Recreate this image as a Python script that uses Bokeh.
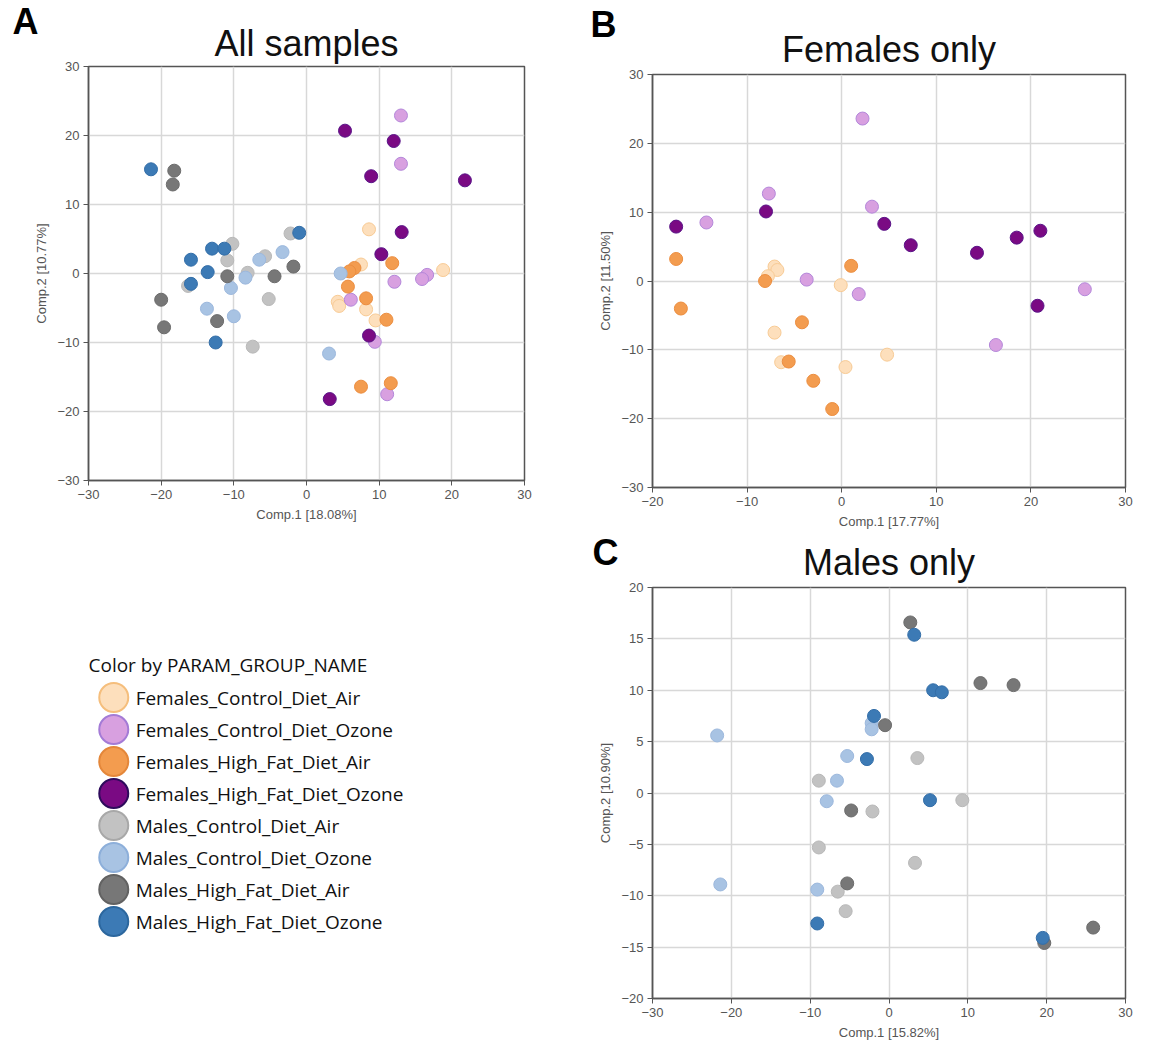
from bokeh.plotting import figure
from bokeh.layouts import row, column
from bokeh.models import ColumnDataSource, Range1d, FactorRange, FixedTicker, Title
from bokeh.core.properties import value
from bokeh.embed import file_html
from bokeh.resources import INLINE

groups = ["Females_Control_Diet_Air", "Females_Control_Diet_Ozone",
          "Females_High_Fat_Diet_Air", "Females_High_Fat_Diet_Ozone",
          "Males_Control_Diet_Air", "Males_Control_Diet_Ozone",
          "Males_High_Fat_Diet_Air", "Males_High_Fat_Diet_Ozone"]
fill_colors = ["#FDDFBC", "#D8A0E0", "#F39C4F", "#7A0A83",
               "#C2C2C2", "#A8C3E3", "#777777", "#3C7AB5"]
line_colors = ["#F8CB95", "#B487DA", "#EC8E40", "#5A1488",
               "#B8B8B8", "#9CB8DD", "#6C6C6C", "#336EA8"]
legend_line_colors = ["#F5BE7C", "#A47BD6", "#E4873A", "#2E0B5C",
                      "#A8A8A8", "#8DAFDA", "#626262", "#2C679E"]

# Panel A: all samples (group index, Comp.1, Comp.2)
a_g = [0, 0, 0, 0, 0, 0, 0,
       1, 1, 1, 1, 1, 1, 1, 1,
       2, 2, 2, 2, 2, 2, 2, 2,
       3, 3, 3, 3, 3, 3, 3, 3,
       4, 4, 4, 4, 4, 4, 4, 4,
       5, 5, 5, 5, 5, 5, 5, 5,
       6, 6, 6, 6, 6, 6, 6, 6,
       7, 7, 7, 7, 7, 7, 7, 7]
a_x = [8.6, 7.5, 18.8, 4.3, 4.5, 8.2, 9.5,
       13.0, 13.0, 16.6, 15.9, 12.1, 6.1, 9.4, 11.1,
       11.8, 6.6, 5.9, 5.7, 8.2, 11.0, 7.5, 11.6,
       5.3, 12.0, 8.9, 21.8, 13.1, 10.3, 8.6, 3.2,
       -2.2, -10.2, -5.7, -10.9, -8.1, -16.3, -5.2, -7.4,
       -3.3, -6.5, -8.4, -10.4, -13.7, -10.0, 3.1, 4.7,
       -18.2, -18.4, -1.8, -10.9, -4.4, -20.0, -12.3, -19.6,
       -21.4, -1.0, -13.0, -11.3, -15.9, -13.6, -15.9, -12.5]
a_y = [6.4, 1.3, 0.5, -4.1, -4.7, -5.2, -6.8,
       22.9, 15.9, -0.2, -0.8, -1.2, -3.8, -9.9, -17.5,
       1.5, 0.8, 0.3, -1.9, -3.6, -6.7, -16.4, -15.9,
       20.7, 19.2, 14.1, 13.5, 6.0, 2.8, -9.0, -18.2,
       5.8, 4.3, 2.5, 1.9, 0.1, -1.8, -3.7, -10.6,
       3.1, 2.0, -0.6, -2.1, -5.1, -6.2, -11.6, 0.0,
       14.9, 12.9, 1.0, -0.4, -0.4, -3.8, -6.9, -7.8,
       15.1, 5.9, 3.6, 3.6, 2.0, 0.2, -1.5, -10.0]

# Panel B: females only
b_g = [0, 0, 0, 0, 0, 0, 0, 0,
       1, 1, 1, 1, 1, 1, 1, 1,
       2, 2, 2, 2, 2, 2, 2, 2,
       3, 3, 3, 3, 3, 3, 3, 3]
b_x = [-7.1, -6.8, -7.8, -0.1, -7.1, -6.4, 0.4, 4.8,
       2.2, -7.7, 3.2, -14.3, -3.7, 1.8, 25.7, 16.3,
       -17.5, -8.1, 1.0, -17.0, -4.2, -5.6, -3.0, -1.0,
       -8.0, 4.5, -17.5, 7.3, 14.3, 18.5, 21.0, 20.7]
b_y = [2.1, 1.6, 0.7, -0.6, -7.5, -11.8, -12.5, -10.7,
       23.6, 12.7, 10.8, 8.5, 0.2, -1.9, -1.2, -9.3,
       3.2, 0.0, 2.2, -4.0, -6.0, -11.7, -14.5, -18.6,
       10.1, 8.3, 7.9, 5.2, 4.1, 6.3, 7.3, -3.6]

# Panel C: males only
c_g = [4, 4, 4, 4, 4, 4, 4, 4,
       5, 5, 5, 5, 5, 5, 5, 5,
       6, 6, 6, 6, 6, 6, 6, 6,
       7, 7, 7, 7, 7, 7, 7, 7]
c_x = [-8.9, 3.6, 9.3, -2.1, -8.9, -6.5, -5.5, 3.3,
       -21.8, -2.2, -2.2, -5.3, -6.6, -7.9, -21.4, -9.1,
       2.7, -0.5, 11.6, 15.8, -4.8, -5.3, 19.7, 25.9,
       3.2, -1.9, 5.6, 6.7, -2.8, 5.2, -9.1, 19.5]
c_y = [1.2, 3.4, -0.7, -1.8, -5.3, -9.6, -11.5, -6.8,
       5.6, 6.8, 6.2, 3.6, 1.2, -0.8, -8.9, -9.4,
       16.6, 6.6, 10.7, 10.5, -1.7, -8.8, -14.6, -13.1,
       15.4, 7.5, 10.0, 9.8, 3.3, -0.7, -12.7, -14.1]

TICK_FONT = "Liberation Sans"


def panel(title, letter, gx, xs, ys, xr, yr, xticks, yticks, xlabel, ylabel,
          width, height, bl, br, bt, bb, title_standoff, letter_offset, letter_standoff):
    p = figure(width=width, height=height, x_range=Range1d(*xr), y_range=Range1d(*yr),
               output_backend="svg", toolbar_location=None,
               min_border_left=bl, min_border_right=br, min_border_top=bt, min_border_bottom=bb)
    # outer title: panel letter
    p.title.text = letter
    p.title.align = "left"
    p.title.offset = letter_offset
    p.title.text_font = "Liberation Sans"
    p.title.text_font_size = "36px"
    p.title.text_font_style = "bold"
    p.title.text_color = "black"
    p.title.standoff = letter_standoff
    # inner title: panel name
    p.add_layout(Title(text=title, align="center", text_font="Liberation Sans",
                       text_font_size="36px", text_font_style="normal",
                       text_color="#111111", standoff=title_standoff), "above")
    p.xaxis.ticker = FixedTicker(ticks=xticks)
    p.yaxis.ticker = FixedTicker(ticks=yticks)
    p.xaxis.axis_label = xlabel
    p.yaxis.axis_label = ylabel
    for ax in (p.xaxis, p.yaxis):
        ax.axis_label_text_font = TICK_FONT
        ax.axis_label_text_font_size = "13px"
        ax.axis_label_text_font_style = "normal"
        ax.axis_label_text_color = "#555555"
        ax.axis_label_standoff = 5
        ax.major_label_text_font = TICK_FONT
        ax.major_label_text_font_size = "13px"
        ax.major_label_text_color = "#555555"
        ax.major_label_standoff = 4
        ax.axis_line_color = "#555555"
        ax.axis_line_width = 1.5
        ax.major_tick_line_color = "#555555"
        ax.major_tick_out = 5
        ax.major_tick_in = 0
        ax.minor_tick_line_color = None
    p.grid.grid_line_color = "#d8d8d8"
    p.grid.grid_line_width = 1.5
    p.outline_line_color = "#555555"
    p.outline_line_width = 1.5
    for k in range(len(groups)):
        idx = [i for i, g in enumerate(gx) if g == k]
        if not idx:
            continue
        src = ColumnDataSource(dict(x=[xs[i] for i in idx], y=[ys[i] for i in idx]))
        p.scatter("x", "y", source=src, size=13, fill_color=fill_colors[k],
                  line_color=line_colors[k], line_width=1)
    return p


pA = panel("All samples", "A", a_g, a_x, a_y, (-30, 30), (-30, 30),
           [-30, -20, -10, 0, 10, 20, 30], [-30, -20, -10, 0, 10, 20, 30],
           "Comp.1 [18.08%]", "Comp.2 [10.77%]",
           588, 538, 88, 64, 66, 58, 6, -76, -49)

pB = panel("Females only", "B", b_g, b_x, b_y, (-20, 30), (-30, 30),
           [-20, -10, 0, 10, 20, 30], [-30, -20, -10, 0, 10, 20, 30],
           "Comp.1 [17.77%]", "Comp.2 [11.50%]",
           559, 533, 64, 22, 74, 46, 9, -62, -45)

pC = panel("Males only", "C", c_g, c_x, c_y, (-30, 30), (-20, 20),
           [-30, -20, -10, 0, 10, 20, 30], [-20, -15, -10, -5, 0, 5, 10, 15, 20],
           "Comp.1 [15.82%]", "Comp.2 [10.90%]",
           559, 515, 64, 17, 54, 50, 10, -60, -77)

# Legend panel
leg_w, leg_h = 588, 510
lb, lr, lt, lbot = 60, 10, 143, 111
frame_w = leg_w - lb - lr
pL = figure(width=leg_w, height=leg_h, x_range=Range1d(0, frame_w),
            y_range=FactorRange(factors=list(reversed(groups)), range_padding=0),
            x_axis_type=None, y_axis_type=None,
            output_backend="svg", toolbar_location=None,
            min_border_left=lb, min_border_right=lr, min_border_top=lt, min_border_bottom=lbot)
pL.grid.visible = False
pL.outline_line_color = None
pL.title.text = "Color by PARAM_GROUP_NAME"
pL.title.align = "left"
pL.title.text_font = "Open Sans"
pL.title.text_font_size = "19px"
pL.title.text_font_style = "normal"
pL.title.text_color = "#111111"
pL.title.standoff = 7
lsrc = ColumnDataSource(dict(g=groups, fill=fill_colors, line=legend_line_colors,
                             cx=[30] * len(groups), tx=[56] * len(groups)))
pL.scatter("cx", "g", source=lsrc, size=29, fill_color="fill", line_color="line", line_width=2)
pL.text("tx", "g", text="g", source=lsrc, text_font=value("Open Sans"),
        text_font_size="19px", text_baseline="middle", text_color="#111111")

layout = row(column(pA, pL), column(pB, pC))

with open("out.html", "w") as f:
    f.write(file_html(layout, INLINE))
